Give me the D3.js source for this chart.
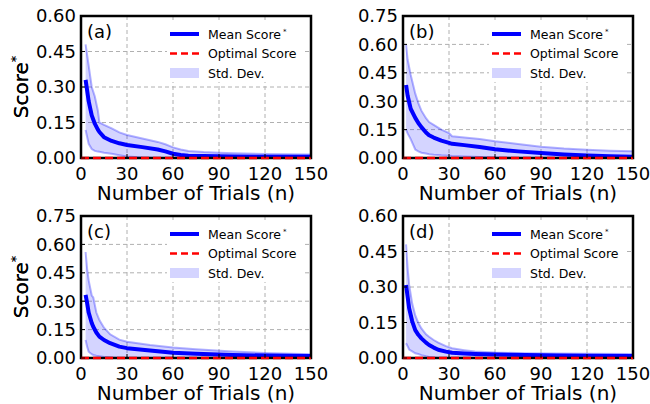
<!DOCTYPE html>
<html>
<head>
<meta charset="utf-8">
<script src="https://cdn.jsdelivr.net/npm/d3@7"></script>
<style>
  body { margin: 0; background: #fff; }
  svg { display: block; font-family: "DejaVu Sans", sans-serif; }
</style>
</head>
<body>
<div id="chart"></div>
<script>
// ---- data ----
const trialsA = [3, 5, 7, 9, 11, 12, 15, 20, 25, 30, 40, 50, 55, 60, 65, 70, 80, 90, 100, 120, 150];
const meanA   = [0.33, 0.24, 0.18, 0.145, 0.12, 0.11, 0.088, 0.072, 0.062, 0.055, 0.046, 0.036, 0.028, 0.018, 0.013, 0.010, 0.008, 0.007, 0.006, 0.005, 0.005];
const upperA  = [0.48, 0.39, 0.30, 0.26, 0.20, 0.15, 0.14, 0.125, 0.108, 0.097, 0.082, 0.068, 0.058, 0.045, 0.036, 0.030, 0.025, 0.022, 0.020, 0.017, 0.015];
const lowerA  = [0.118, 0.06, 0.038, 0.03, 0.027, 0.026, 0.022, 0.018, 0.012, 0.006, 0.002, 0, 0, 0, 0, 0, 0, 0, 0, 0, 0];

const trialsB = [2, 3, 5, 8, 10, 12, 15, 17, 20, 25, 30, 32, 40, 50, 60, 75, 90, 105, 120, 135, 150];
const meanB   = [0.386, 0.33, 0.26, 0.212, 0.185, 0.163, 0.135, 0.12, 0.108, 0.092, 0.08, 0.075, 0.068, 0.058, 0.046, 0.035, 0.026, 0.019, 0.013, 0.009, 0.007];
const upperB  = [0.60, 0.52, 0.44, 0.34, 0.29, 0.25, 0.21, 0.19, 0.175, 0.15, 0.132, 0.115, 0.108, 0.10, 0.088, 0.074, 0.06, 0.05, 0.043, 0.038, 0.035];
const lowerB  = [0.15, 0.13, 0.10, 0.045, 0.035, 0.028, 0.024, 0.02, 0.017, 0.014, 0.012, 0.01, 0.008, 0.005, 0.002, 0, 0, 0, 0, 0, 0];

const trialsC = [3, 4, 5, 7, 8, 10, 12, 15, 19, 25, 30, 45, 60, 75, 99, 120, 150];
const meanC   = [0.333, 0.29, 0.24, 0.185, 0.165, 0.135, 0.113, 0.095, 0.078, 0.06, 0.052, 0.04, 0.028, 0.022, 0.016, 0.013, 0.011];
const upperC  = [0.56, 0.47, 0.41, 0.33, 0.32, 0.24, 0.20, 0.16, 0.125, 0.097, 0.086, 0.069, 0.055, 0.046, 0.034, 0.027, 0.02];
const lowerC  = [0.095, 0.06, 0.033, 0.02, 0.016, 0.012, 0.009, 0.005, 0.003, 0, 0, 0, 0, 0, 0, 0, 0];

const trialsD = [2, 3, 4, 6, 8, 10, 12, 15, 17, 20, 23, 28, 32, 40, 47, 60, 80, 100, 120, 150];
const meanD   = [0.308, 0.26, 0.21, 0.155, 0.118, 0.098, 0.083, 0.065, 0.055, 0.044, 0.035, 0.027, 0.022, 0.019, 0.017, 0.015, 0.013, 0.011, 0.010, 0.0085];
const upperD  = [0.48, 0.38, 0.31, 0.23, 0.18, 0.148, 0.125, 0.10, 0.09, 0.076, 0.065, 0.05, 0.041, 0.033, 0.027, 0.023, 0.02, 0.019, 0.018, 0.017];
const lowerD  = [0.062, 0.05, 0.036, 0.028, 0.02, 0.017, 0.012, 0.007, 0.004, 0.002, 0, 0, 0, 0, 0, 0, 0, 0, 0, 0];

const xTicks = [0, 30, 60, 90, 120, 150];
const yTicksSmall = [0, 0.15, 0.30, 0.45, 0.60];
const yTicksLarge = [0, 0.15, 0.30, 0.45, 0.60, 0.75];

const legendItems = ["Mean Score", "Optimal Score", "Std. Dev."];

const panels = [
  { label: "(a)", left: 81,  top: 16,  x: trialsA, mean: meanA, upper: upperA, lower: lowerA, yMax: 0.60, yTicks: yTicksSmall },
  { label: "(b)", left: 403, top: 16,  x: trialsB, mean: meanB, upper: upperB, lower: lowerB, yMax: 0.75, yTicks: yTicksLarge },
  { label: "(c)", left: 81,  top: 216, x: trialsC, mean: meanC, upper: upperC, lower: lowerC, yMax: 0.75, yTicks: yTicksLarge },
  { label: "(d)", left: 403, top: 216, x: trialsD, mean: meanD, upper: upperD, lower: lowerD, yMax: 0.60, yTicks: yTicksSmall }
];

const W = 650, H = 404;
const pw = 230, ph = 142;

const svg = d3.select("#chart").append("svg")
  .attr("width", W)
  .attr("height", H);

panels.forEach((p, i) => {
  const x = d3.scaleLinear().domain([0, 150]).range([0, pw]);
  const y = d3.scaleLinear().domain([0, p.yMax]).range([ph, 0]);

  const g = svg.append("g").attr("transform", `translate(${p.left},${p.top})`);

  svg.append("clipPath").attr("id", "clip" + i)
    .append("rect").attr("width", pw).attr("height", ph);

  // grid
  g.append("g").selectAll("line")
    .data(xTicks.slice(1, -1))
    .join("line")
      .attr("x1", d => x(d)).attr("x2", d => x(d))
      .attr("y1", 0).attr("y2", ph)
      .attr("stroke", "#b0b0b0").attr("stroke-width", 1)
      .attr("stroke-dasharray", "4,3");
  g.append("g").selectAll("line")
    .data(p.yTicks.slice(1, -1))
    .join("line")
      .attr("x1", 0).attr("x2", pw)
      .attr("y1", d => y(d)).attr("y2", d => y(d))
      .attr("stroke", "#b0b0b0").attr("stroke-width", 1)
      .attr("stroke-dasharray", "4,3");

  const rows = p.x.map((t, j) => ({ t, m: p.mean[j], u: p.upper[j], l: p.lower[j] }));
  const plot = g.append("g").attr("clip-path", `url(#clip${i})`);

  const area = d3.area()
    .x(d => x(d.t))
    .y0(d => y(d.l))
    .y1(d => y(d.u));
  plot.append("path")
    .datum(rows)
    .attr("d", area)
    .attr("fill", "#0000ff")
    .attr("fill-opacity", 0.17);

  const edgeU = d3.line().x(d => x(d.t)).y(d => y(d.u));
  const edgeL = d3.line().x(d => x(d.t)).y(d => y(d.l));
  [edgeU, edgeL].forEach(fn => {
    plot.append("path")
      .datum(rows)
      .attr("d", fn)
      .attr("fill", "none")
      .attr("stroke", "#0000ff")
      .attr("stroke-opacity", 0.3)
      .attr("stroke-width", 2);
  });

  plot.append("path")
    .datum(rows)
    .attr("d", d3.line().x(d => x(d.t)).y(d => y(d.m)))
    .attr("fill", "none")
    .attr("stroke", "#0000ff")
    .attr("stroke-width", 4)
    .attr("stroke-linejoin", "round");

  // frame
  g.append("rect")
    .attr("width", pw).attr("height", ph)
    .attr("fill", "none")
    .attr("stroke", "#000").attr("stroke-width", 2.5);

  // optimal score (y = 0)
  g.append("line")
    .attr("x1", x(0)).attr("x2", x(150))
    .attr("y1", y(0)).attr("y2", y(0))
    .attr("stroke", "#ff0000").attr("stroke-width", 2.5)
    .attr("stroke-dasharray", "8,4");

  // inward ticks
  g.append("g").selectAll("line")
    .data(xTicks)
    .join("line")
      .attr("x1", d => x(d)).attr("x2", d => x(d))
      .attr("y1", ph).attr("y2", ph - 4)
      .attr("stroke", "#000").attr("stroke-width", 1);
  g.append("g").selectAll("line")
    .data(p.yTicks)
    .join("line")
      .attr("x1", 0).attr("x2", 4)
      .attr("y1", d => y(d)).attr("y2", d => y(d))
      .attr("stroke", "#000").attr("stroke-width", 1);

  // tick labels
  g.append("g").selectAll("text")
    .data(xTicks)
    .join("text")
      .attr("x", d => x(d))
      .attr("y", ph + 21.5)
      .attr("text-anchor", "middle")
      .attr("font-size", 18)
      .text(d => d);
  g.append("g").selectAll("text")
    .data(p.yTicks)
    .join("text")
      .attr("x", -5)
      .attr("y", d => y(d))
      .attr("dy", "0.36em")
      .attr("text-anchor", "end")
      .attr("font-size", 18)
      .text(d => d3.format(".2f")(d));

  // axis labels
  g.append("text")
    .attr("x", pw / 2)
    .attr("y", ph + 41.5)
    .attr("text-anchor", "middle")
    .attr("font-size", 20)
    .text("Number of Trials (n)");

  const yl = g.append("text")
    .attr("transform", `translate(${-p.left + 28},${ph / 2}) rotate(-90)`)
    .attr("text-anchor", "middle")
    .attr("font-size", 20);
  yl.append("tspan").text("Score");
  yl.append("tspan").attr("font-size", 13).attr("dy", -8).text("*");

  // panel label
  g.append("text")
    .attr("x", 6)
    .attr("y", 22)
    .attr("font-size", 18)
    .text(p.label);

  // legend (white box, no border)
  g.append("rect")
    .attr("x", 86).attr("y", 4)
    .attr("width", 138).attr("height", 62)
    .attr("fill", "#fff");

  const lg = g.append("g").attr("transform", "translate(89,18)");
  const rowH = 19.5;
  lg.append("line")
    .attr("x1", 0).attr("x2", 29).attr("y1", 0).attr("y2", 0)
    .attr("stroke", "#0000ff").attr("stroke-width", 4);
  lg.append("line")
    .attr("x1", 0).attr("x2", 29).attr("y1", rowH).attr("y2", rowH)
    .attr("stroke", "#ff0000").attr("stroke-width", 2.5)
    .attr("stroke-dasharray", "7,4");
  lg.append("rect")
    .attr("x", 0).attr("y", 2 * rowH - 5)
    .attr("width", 29).attr("height", 10)
    .attr("fill", "#0000ff").attr("fill-opacity", 0.17);

  legendItems.forEach((name, k) => {
    const t = lg.append("text")
      .attr("x", 38)
      .attr("y", k * rowH)
      .attr("dy", "0.36em")
      .attr("font-size", 12.5)
      .text(name);
    if (k === 0) {
      t.append("tspan").attr("font-size", 7).attr("dx", 2).attr("dy", -5).text("*");
    }
  });
});
</script>
</body>
</html>
